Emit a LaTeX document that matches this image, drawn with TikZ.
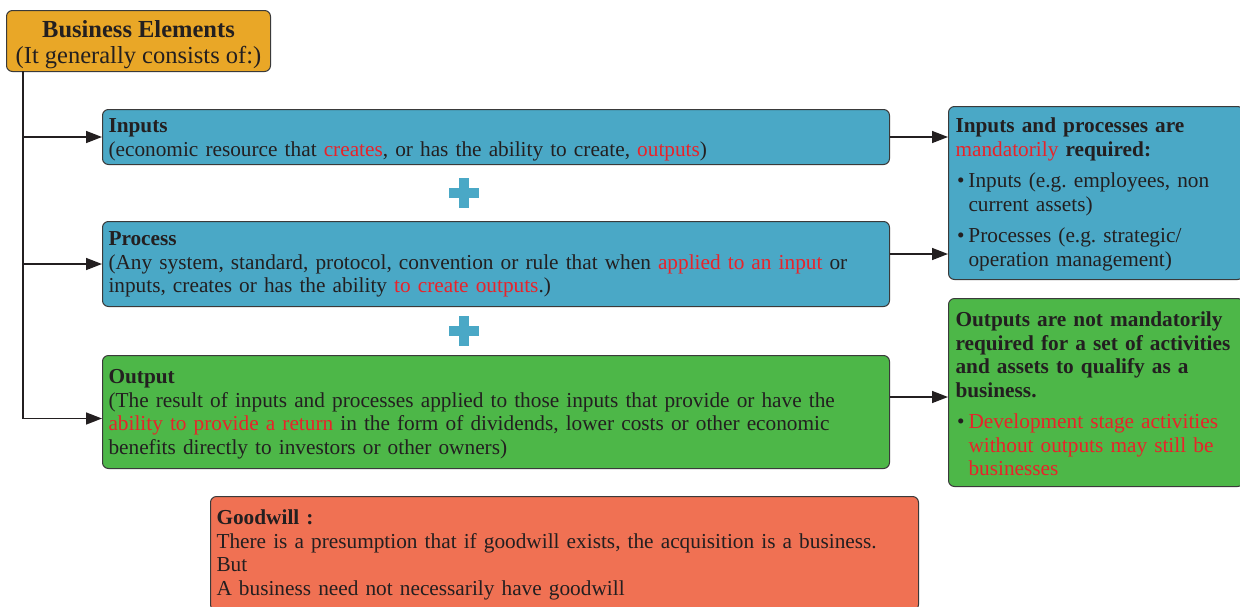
\documentclass[tikz,border=0pt]{standalone}
\usepackage{fontspec}
\setmainfont{Liberation Serif}
\usetikzlibrary{arrows.meta}
\definecolor{cOrange}{HTML}{E9A727}
\definecolor{cBlue}{HTML}{4AA8C6}
\definecolor{cGreen}{HTML}{4DB748}
\definecolor{cSalmon}{HTML}{F07153}
\definecolor{cRed}{HTML}{E8232A}
\definecolor{cText}{HTML}{231F20}
\definecolor{cEdge}{HTML}{3A3A3A}
\newcommand\rd[1]{\textcolor{cRed}{#1}}
\newcommand\bul{\par\vspace{8pt}\leftskip=13pt\noindent\llap{\textbullet\hspace{4pt}}}
\newcommand\ts[1]{\rule{0pt}{#1pt}}
\newcommand\bs[1]{\rule[-#1pt]{0pt}{#1pt}}
\frenchspacing
\begin{document}
\begin{tikzpicture}[x=1pt,y=-1pt,
  box/.style={draw=cEdge,line width=1pt,rounded corners=6pt,anchor=north west,
    inner xsep=6pt,inner ysep=0pt,align=left,font=\fontsize{21.3}{23.5}\selectfont\frenchspacing,text=cText},
  conn/.style={line width=1.5pt,draw=cText,-{Triangle[length=16pt,width=12pt]}},
  trunk/.style={line width=1.5pt,draw=cText},
  plus/.style={fill=cBlue}]
\useasboundingbox (0,0) rectangle (1240,606);
\node[box,fill=cOrange,align=center,minimum width=264pt,minimum height=61pt,inner xsep=2pt,
  font=\fontsize{24.5}{26}\selectfont] (top) at (6,10)
  {\ts{27}\textbf{Business Elements}\\(It generally consists of:)\bs{8}};
\node[box,fill=cBlue,text width=775pt,minimum height=55pt] (inp) at (102,109)
  {\ts{23}\textbf{Inputs}\\(economic resource that \rd{creates}, or has the ability to create, \rd{outputs})\bs{8.5}};
\node[box,fill=cBlue,text width=775pt,minimum height=85pt] (proc) at (102,221)
  {\ts{24}\textbf{Process}\\(Any system, standard, protocol, convention or rule that when \rd{applied to an input} or\\inputs, creates or has the ability \rd{to create outputs}.)\bs{14}};
\node[box,fill=cGreen,text width=775pt,minimum height=113pt] (out) at (102,355)
  {\ts{28}\textbf{Output}\\(The result of inputs and processes applied to those inputs that provide or have the\\\rd{ability to provide a return} in the form of dividends, lower costs or other economic\\benefits directly to investors or other owners)\bs{14.5}};
\node[box,fill=cBlue,text width=281pt,minimum height=173pt,inner xsep=7pt] (rb) at (948,106)
  {\ts{26}\textbf{Inputs and processes are}\\\rd{mandatorily} \textbf{required:}\bul Inputs (e.g. employees, non\\current assets)\bul Processes (e.g. strategic/\\operation management)\bs{13.5}\par};
\node[box,fill=cGreen,text width=281pt,minimum height=188pt,inner xsep=7pt] (gb) at (948,298)
  {\ts{28}\textbf{Outputs are not mandatorily\\required for a set of activities\\and assets to qualify as a\\business.}\bul{\color{cRed}Development stage activities\\without outputs may still be\\businesses}\bs{11}\par};
\node[box,fill=cSalmon,text width=696pt,minimum height=114pt] (gw) at (210,496)
  {\ts{28}\textbf{Goodwill :}\\There is a presumption that if goodwill exists, the acquisition is a business.\\But\\A business need not necessarily have goodwill\bs{15.5}};
\coordinate (tb) at (23,71);
\coordinate (tend) at (23,418.5);
\draw[trunk] (tb) -- (tend);
\draw[conn] (inp.west -| tb) -- (inp.west);
\draw[conn] (proc.west -| tb) -- (proc.west);
\draw[conn] (tend) -- (tend -| out.west);
\draw[conn] (inp.east) -- (inp.east -| rb.west);
\draw[conn] ([yshift=10pt]proc.east) -- ([yshift=10pt]proc.east -| rb.west);
\draw[conn] ([yshift=15pt]out.east) -- ([yshift=15pt]out.east -| gb.west);
\fill[plus] (449,188) rectangle (479,198);
\fill[plus] (459,178) rectangle (469,208);
\fill[plus] (449,326) rectangle (479,336);
\fill[plus] (459,316) rectangle (469,346);
\end{tikzpicture}
\end{document}
